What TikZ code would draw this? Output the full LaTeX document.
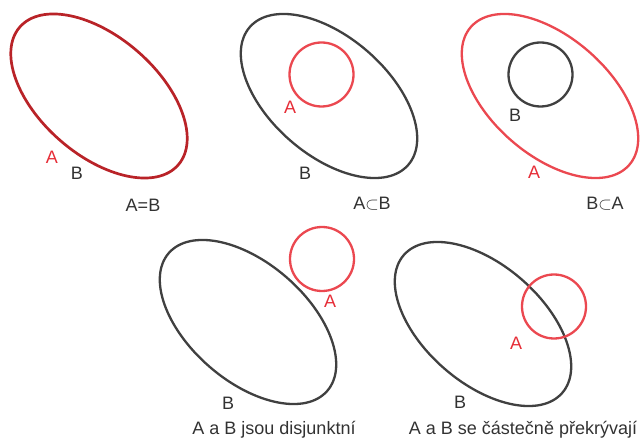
\documentclass[tikz,border=0pt]{standalone}
\usepackage{fontspec}
\setmainfont{Liberation Sans}
\begin{document}
\begin{tikzpicture}[x=1pt,y=1pt,
  setline/.style={line width=2.3pt},
  setshape/.style={x radius=105pt,y radius=59pt},
  grayset/.style={setline,draw={rgb,255:red,64;green,64;blue,64}},
  redset/.style={setline,draw={rgb,255:red,235;green,72;blue,80}},
  darkredset/.style={line width=2.7pt,draw={rgb,255:red,185;green,35;blue,40}},
  lbl/.style={font=\fontsize{18}{21}\selectfont,text={rgb,255:red,50;green,50;blue,50},inner sep=0pt},
  redlbl/.style={lbl,text={rgb,255:red,230;green,45;blue,55}},
  captext/.style={lbl}
]
\useasboundingbox (0,0) rectangle (640,442);
% Panel 1: A=B
\draw[darkredset,rotate around={-41:(99,346)}] (99,346) ellipse[setshape];
\node[redlbl] (a1) at (52,285) {A};
\node[lbl] (b1) at (77,269) {B};
\node[captext] (c1) at (143,237) {A=B};
% Panel 2: A subset B
\draw[grayset,rotate around={-41:(329,346)}] (329,346) ellipse[setshape];
\draw[redset] (321.5,367.5) circle[radius=32pt];
\node[redlbl] (a2) at (290,335) {A};
\node[lbl] (b2) at (305,269) {B};
\node[captext] (c2) at (372,238) {A$\subset$B};
% Panel 3: B subset A
\draw[redset,rotate around={-41:(550,346)}] (550,346) ellipse[setshape];
\draw[grayset] (540.5,367.5) circle[radius=32pt];
\node[lbl] (b3) at (515,327) {B};
\node[redlbl] (a3) at (534,270) {A};
\node[captext] (c3) at (605,238) {B$\subset$A};
% Panel 4: disjoint
\draw[grayset,rotate around={-41:(248,120)}] (248,120) ellipse[setshape];
\draw[redset] (322,183) circle[radius=32pt];
\node[redlbl] (a4) at (330,141) {A};
\node[lbl] (b4) at (228,39) {B};
\node[captext] (c4) at (274,12) {A a B jsou disjunktní};
% Panel 5: overlap
\draw[grayset,rotate around={-41:(483,118)}] (483,118) ellipse[setshape];
\draw[redset] (554,135.5) circle[radius=32pt];
\node[redlbl] (a5) at (516,99) {A};
\node[lbl] (b5) at (460,40) {B};
\node[captext] (c5) at (523,12) {A a B se částečně překrývají};
\end{tikzpicture}
\end{document}
